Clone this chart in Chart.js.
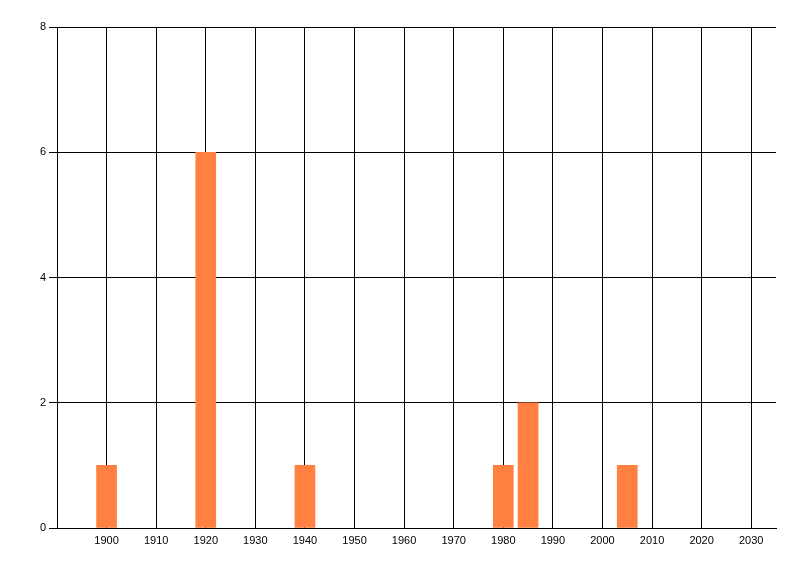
<!DOCTYPE html>
<html>
<head>
<meta charset="utf-8">
<script src="https://cdn.jsdelivr.net/npm/chart.js@4.4.1/dist/chart.umd.min.js"></script>
<style>
  html, body { margin: 0; padding: 0; background: #fff; }
  #wrap { width: 800px; height: 576px; }
</style>
</head>
<body>
<div id="wrap"><canvas id="chart"></canvas></div>
<script>
// --- dados ---
const years = [1900, 1920, 1940, 1980, 1985, 2005];
const counts = [1, 6, 1, 1, 2, 1];
const xTickLabels = [1900, 1910, 1920, 1930, 1940, 1950, 1960, 1970, 1980, 1990, 2000, 2010, 2020, 2030];
const yTickLabels = [0, 2, 4, 6, 8];

Chart.defaults.font.family = '"Liberation Sans", Arial, sans-serif';
Chart.defaults.font.size = 11;
Chart.defaults.color = '#000';

const points = years.map((y, i) => ({ x: y, y: counts[i] }));

new Chart(document.getElementById('chart'), {
    type: 'bar',
    data: {
        datasets: [{
            data: points,
            backgroundColor: '#ff8040',
            borderWidth: 0,
            barThickness: 20
        }]
    },
    options: {
        responsive: true,
        maintainAspectRatio: false,
        animation: false,
        layout: { padding: { left: 0, top: 27, right: 24, bottom: 0 } },
        plugins: { legend: { display: false }, tooltip: { enabled: false } },
        scales: {
            x: {
                type: 'linear',
                min: 1890,
                max: 2035,
                offset: false,
                afterBuildTicks: s => { s.ticks = xTickLabels.map(v => ({ value: v })); },
                afterFit: s => { s.height = 48; },
                grid: { color: '#000', lineWidth: 1, drawTicks: false, offset: false },
                border: { color: '#000', width: 1 },
                ticks: { padding: 6, autoSkip: false, maxRotation: 0, callback: v => String(v) }
            },
            y: {
                min: 0,
                max: 8,
                afterBuildTicks: s => { s.ticks = yTickLabels.map(v => ({ value: v })); },
                afterFit: s => { s.width = 57; },
                grid: { color: '#000', lineWidth: 1, tickLength: 8 },
                border: { color: '#000', width: 1 },
                ticks: { padding: 3 }
            }
        }
    }
});
</script>
</body>
</html>
